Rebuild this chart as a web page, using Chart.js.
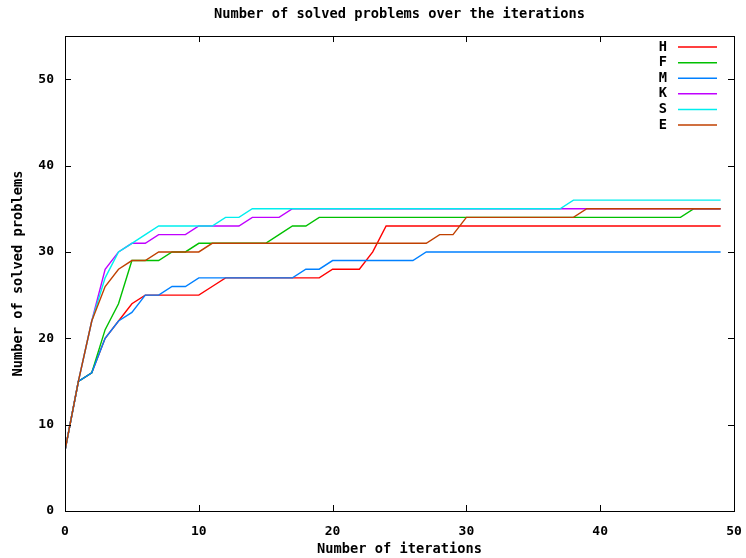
<!DOCTYPE html>
<html>
<head>
<meta charset="utf-8">
<title>Number of solved problems over the iterations</title>
<script src="https://cdn.jsdelivr.net/npm/chart.js@4/dist/chart.umd.min.js"></script>
<style>
  html, body { margin: 0; padding: 0; background: #fff; }
  #wrap { width: 746px; height: 558px; }
</style>
</head>
<body>
<div id="wrap"><canvas id="chart" width="746" height="558"></canvas></div>
<script>
// ------------------------
// Data
// ------------------------

const iterations = [
  0, 1, 2, 3, 4, 5, 6, 7, 8, 9,
  10, 11, 12, 13, 14, 15, 16, 17, 18, 19,
  20, 21, 22, 23, 24, 25, 26, 27, 28, 29,
  30, 31, 32, 33, 34, 35, 36, 37, 38, 39,
  40, 41, 42, 43, 44, 45, 46, 47, 48, 49
];

const seriesNames = ['H', 'F', 'M', 'K', 'S', 'E'];

const valuesH = [
  7, 15, 16, 20, 22, 24, 25, 25, 25, 25,
  25, 26, 27, 27, 27, 27, 27, 27, 27, 27,
  28, 28, 28, 30, 33, 33, 33, 33, 33, 33,
  33, 33, 33, 33, 33, 33, 33, 33, 33, 33,
  33, 33, 33, 33, 33, 33, 33, 33, 33, 33
];
const valuesF = [
  7, 15, 16, 21, 24, 29, 29, 29, 30, 30,
  31, 31, 31, 31, 31, 31, 32, 33, 33, 34,
  34, 34, 34, 34, 34, 34, 34, 34, 34, 34,
  34, 34, 34, 34, 34, 34, 34, 34, 34, 34,
  34, 34, 34, 34, 34, 34, 34, 35, 35, 35
];
const valuesM = [
  7, 15, 16, 20, 22, 23, 25, 25, 26, 26,
  27, 27, 27, 27, 27, 27, 27, 27, 28, 28,
  29, 29, 29, 29, 29, 29, 29, 30, 30, 30,
  30, 30, 30, 30, 30, 30, 30, 30, 30, 30,
  30, 30, 30, 30, 30, 30, 30, 30, 30, 30
];
const valuesK = [
  7, 15, 22, 28, 30, 31, 31, 32, 32, 32,
  33, 33, 33, 33, 34, 34, 34, 35, 35, 35,
  35, 35, 35, 35, 35, 35, 35, 35, 35, 35,
  35, 35, 35, 35, 35, 35, 35, 35, 35, 35,
  35, 35, 35, 35, 35, 35, 35, 35, 35, 35
];
const valuesS = [
  7, 15, 22, 27, 30, 31, 32, 33, 33, 33,
  33, 33, 34, 34, 35, 35, 35, 35, 35, 35,
  35, 35, 35, 35, 35, 35, 35, 35, 35, 35,
  35, 35, 35, 35, 35, 35, 35, 35, 36, 36,
  36, 36, 36, 36, 36, 36, 36, 36, 36, 36
];
const valuesE = [
  7, 15, 22, 26, 28, 29, 29, 30, 30, 30,
  30, 31, 31, 31, 31, 31, 31, 31, 31, 31,
  31, 31, 31, 31, 31, 31, 31, 31, 32, 32,
  34, 34, 34, 34, 34, 34, 34, 34, 34, 35,
  35, 35, 35, 35, 35, 35, 35, 35, 35, 35
];

const xTicks = [0, 10, 20, 30, 40, 50];
const yTicks = [0, 10, 20, 30, 40, 50];

// gnuplot default line colours
const colors = ['#ff0000', '#00c000', '#0080ff', '#c000ff', '#00eeee', '#c04000'];
const allValues = [valuesH, valuesF, valuesM, valuesK, valuesS, valuesE];

const FONT = '"DejaVu Sans Mono", "Liberation Mono", monospace';

// ------------------------
// Frame, inward ticks and legend (gnuplot look)
// ------------------------

const gnuplotFrame = {
  id: 'gnuplotFrame',
  afterDraw(chart) {
    const { ctx, chartArea: a, scales: { x, y } } = chart;
    const tick = 6;
    ctx.save();
    ctx.strokeStyle = '#000';
    ctx.lineWidth = 1;
    ctx.beginPath();
    xTicks.forEach(v => {
      const px = Math.round(x.getPixelForValue(v)) + 0.5;
      ctx.moveTo(px, a.bottom); ctx.lineTo(px, a.bottom - tick);
      ctx.moveTo(px, a.top); ctx.lineTo(px, a.top + tick);
    });
    yTicks.forEach(v => {
      const py = Math.round(y.getPixelForValue(v)) + 0.5;
      ctx.moveTo(a.left, py); ctx.lineTo(a.left + tick, py);
      ctx.moveTo(a.right, py); ctx.lineTo(a.right - tick, py);
    });
    ctx.stroke();
    ctx.strokeRect(Math.round(a.left) + 0.5, Math.round(a.top) + 0.5,
      Math.round(a.right - a.left), Math.round(a.bottom - a.top));

    // legend, top right inside the plot
    const textRight = a.right - 67;
    const lineStart = a.right - 56, lineEnd = a.right - 17;
    ctx.font = 'bold 13.7px ' + FONT;
    ctx.textAlign = 'right';
    ctx.textBaseline = 'middle';
    chart.data.datasets.forEach((ds, i) => {
      const yy = a.top + 11 + i * 15.6;
      ctx.fillStyle = '#000';
      ctx.fillText(ds.label, textRight, yy);
      ctx.lineWidth = 1.5;
      ctx.strokeStyle = colors[i];
      ctx.beginPath();
      ctx.moveTo(lineStart, yy);
      ctx.lineTo(lineEnd, yy);
      ctx.stroke();
    });
    ctx.restore();
  }
};

// ------------------------
// Chart
// ------------------------

const datasets = seriesNames.map((name, i) => ({
  label: name,
  data: allValues[i],
  borderColor: colors[i],
  backgroundColor: colors[i],
  borderWidth: 1.4,
  pointRadius: 0,
  tension: 0,
  fill: false,
  order: seriesNames.length - i
}));

new Chart(document.getElementById('chart').getContext('2d'), {
  type: 'line',
  data: { labels: iterations, datasets },
  options: {
    responsive: false,
    animation: false,
    events: [],
    layout: { padding: { left: 0, right: 12, top: 0, bottom: 0 } },
    plugins: {
      legend: { display: false },
      tooltip: { enabled: false },
      title: {
        display: true,
        text: 'Number of solved problems over the iterations',
        fullSize: false,
        color: '#000',
        font: { family: FONT, size: 13.7, weight: 'bold' },
        padding: { top: 6, bottom: 13.6 }
      }
    },
    scales: {
      x: {
        type: 'linear',
        min: 0,
        max: 50,
        afterBuildTicks: s => { s.ticks = xTicks.map(v => ({ value: v })); },
        afterFit: s => { s.height = 47; s.paddingLeft = 0; s.paddingRight = 0; },
        grid: { display: false, drawTicks: false },
        border: { display: false },
        ticks: {
          color: '#000',
          padding: 13,
          maxRotation: 0,
          font: { family: FONT, size: 13, weight: 'bold' }
        },
        title: {
          display: true,
          text: 'Number of iterations',
          color: '#000',
          font: { family: FONT, size: 13.7, weight: 'bold' },
          padding: { top: 0, bottom: 0 }
        }
      },
      y: {
        min: 0,
        max: 55,
        afterBuildTicks: s => { s.ticks = yTicks.map(v => ({ value: v })); },
        afterFit: s => { s.width = 65; s.paddingTop = 0; s.paddingBottom = 0; },
        grid: { display: false, drawTicks: false },
        border: { display: false },
        ticks: {
          color: '#000',
          padding: 11,
          font: { family: FONT, size: 13, weight: 'bold' }
        },
        title: {
          display: true,
          text: 'Number of solved problems',
          color: '#000',
          font: { family: FONT, size: 13.7, weight: 'bold' },
          padding: { top: 10, bottom: 0 }
        }
      }
    }
  },
  plugins: [gnuplotFrame]
});
</script>
</body>
</html>
